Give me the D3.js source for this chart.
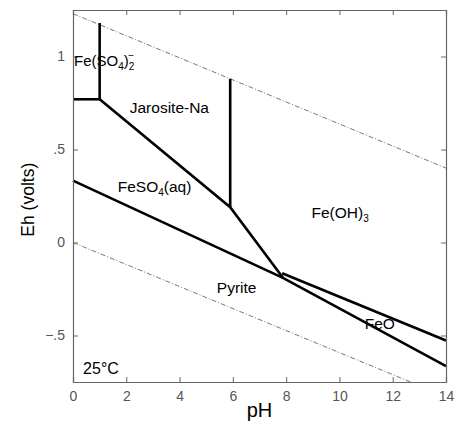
<!DOCTYPE html>
<html>
<head>
<meta charset="utf-8">
<script src="https://cdn.jsdelivr.net/npm/d3@7"></script>
<style>
  body { margin: 0; background: #fff; }
  svg { display: block; font-family: "Liberation Sans", Arial, sans-serif; }
</style>
</head>
<body>
<div id="vis"></div>
<script>
// pH / Eh values
const xTicks = [0, 2, 4, 6, 8, 10, 12, 14];
const yTicks = [-0.5, 0, 0.5, 1];

// water stability limits (dash-dot)
const waterUpper = [[0, 1.23], [14, 0.40]];
const waterLower = [[0, 0.0], [12.67, -0.75]];

// phase boundaries (solid)
const boundaries = [
  [[0, 0.77], [1, 0.77]],                      // Fe(SO4)2- / FeSO4(aq)
  [[1, 0.77], [1, 1.18]],                      // Fe(SO4)2- / Jarosite-Na
  [[1, 0.77], [5.9, 0.19], [7.88, -0.19]],     // Jarosite / FeSO4, Fe(OH)3 / FeSO4
  [[5.9, 0.19], [5.9, 0.88]],                  // Jarosite-Na / Fe(OH)3
  [[0, 0.333], [7.88, -0.19], [14, -0.665]],   // pyrite upper boundary
  [[7.85, -0.165], [14, -0.527]]               // Fe(OH)3 / FeO
];

const labels = [
  {x: 2.13, y: 0.695, parts: [["Jarosite-Na", 0]]},
  {x: 1.68, y: 0.27, parts: [["FeSO", 0], ["4", 1], ["(aq)", 0]]},
  {x: 8.95, y: 0.13, parts: [["Fe(OH)", 0], ["3", 1]]},
  {x: 5.4, y: -0.27, parts: [["Pyrite", 0]]},
  {x: 10.95, y: -0.465, parts: [["FeO", 0]]}
];

function manageChart(){
  const size = {width: 457, height: 425};
  const margin = {left: 73, right: 11, top: 10, bottom: 43};

  const svg = d3.select("#vis")
    .append("svg")
    .attr("width", size.width)
    .attr("height", size.height);

  const x = d3.scaleLinear()
    .domain([0, 14])
    .range([margin.left, size.width - margin.right]);
  const y = d3.scaleLinear()
    .domain([-0.75, 1.25])
    .range([size.height - margin.bottom, margin.top]);

  const line = d3.line().x(d => x(d[0])).y(d => y(d[1]));

  // water lines
  svg.selectAll(".water")
    .data([waterUpper, waterLower])
    .join("path")
    .attr("class", "water")
    .attr("d", line)
    .attr("fill", "none")
    .attr("stroke", "#777")
    .attr("stroke-width", 1)
    .attr("stroke-dasharray", "5,2,1,2");

  // phase boundaries
  svg.selectAll(".bound")
    .data(boundaries)
    .join("path")
    .attr("class", "bound")
    .attr("d", line)
    .attr("fill", "none")
    .attr("stroke", "#000")
    .attr("stroke-width", 2.6)
    .attr("stroke-linejoin", "miter");

  // axes (box with inward ticks)
  const yFmt = d => d === 0 ? "0" : String(d).replace("0.", ".").replace("-", "\u2212");
  const bottom = svg.append("g")
    .attr("transform", `translate(0, ${y(-0.75)})`)
    .call(d3.axisBottom(x).tickValues(xTicks).tickSize(-5).tickPadding(9));
  const left = svg.append("g")
    .attr("transform", `translate(${x(0)}, 0)`)
    .call(d3.axisLeft(y).tickValues(yTicks).tickFormat(yFmt).tickSize(-5).tickPadding(8));
  const top = svg.append("g")
    .attr("transform", `translate(0, ${y(1.25)})`)
    .call(d3.axisTop(x).tickValues(xTicks).tickFormat("").tickSize(-5));
  const right = svg.append("g")
    .attr("transform", `translate(${x(14)}, 0)`)
    .call(d3.axisRight(y).tickValues(yTicks).tickFormat("").tickSize(-5));

  [bottom, left, top, right].forEach(g => {
    g.select(".domain").attr("stroke", "#666").attr("stroke-width", 1.2);
    g.selectAll(".tick line").attr("stroke", "#666");
    g.selectAll("text")
      .style("font-size", "14px")
      .style("font-family", "'Liberation Sans', Arial, sans-serif")
      .attr("fill", "#555");
  });

  // Fe(SO4)2- label
  const fe = svg.append("text")
    .attr("x", x(0) + 1)
    .attr("y", y(0.95))
    .style("font-size", "15px");
  fe.append("tspan").text("Fe(SO");
  fe.append("tspan").text("4").attr("dy", 4).style("font-size", "10px");
  fe.append("tspan").text(")").attr("dy", -4);
  fe.append("tspan").text("2").attr("dy", 4).style("font-size", "10px");
  fe.append("tspan").text("\u2212").attr("dx", -6).attr("dy", -11).style("font-size", "10px");

  // region labels
  labels.forEach(l => {
    const t = svg.append("text")
      .attr("x", x(l.x))
      .attr("y", y(l.y))
      .style("font-size", "15.5px");
    let shifted = false;
    l.parts.forEach(p => {
      const s = t.append("tspan").text(p[0]);
      if (p[1] && !shifted){ s.attr("dy", 4).style("font-size", "10px"); shifted = true; }
      else if (!p[1] && shifted){ s.attr("dy", -4); shifted = false; }
    });
  });

  svg.append("text")
    .attr("x", x(0.38))
    .attr("y", y(-0.705))
    .style("font-size", "16px")
    .text("25\u00b0C");

  // axis titles
  svg.append("text")
    .attr("text-anchor", "middle")
    .attr("transform", `translate(34, ${y(0.23)}) rotate(-90)`)
    .style("font-size", "17.5px")
    .text("Eh (volts)");

  svg.append("text")
    .attr("text-anchor", "middle")
    .attr("x", x(7))
    .attr("y", 417)
    .style("font-size", "20px")
    .text("pH");
}

manageChart();
</script>
</body>
</html>
